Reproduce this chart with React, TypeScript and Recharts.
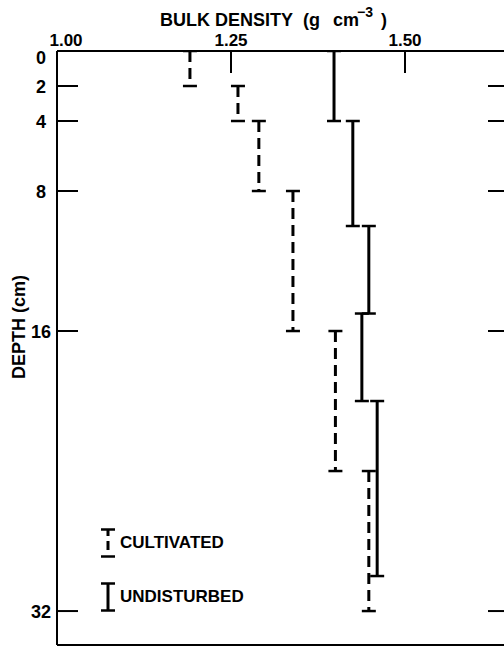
import { ScatterChart, Scatter, XAxis, YAxis, Legend } from 'recharts'

// depth intervals (cm) and bulk density (g cm-3)
const cultTop = [0, 2, 4, 8, 16, 24]
const cultBottom = [2, 4, 8, 16, 24, 32]
const cultDensity = [1.191, 1.26, 1.29, 1.339, 1.4, 1.448]

const undTop = [0, 4, 10, 15, 20]
const undBottom = [4, 10, 15, 20, 30]
const undDensity = [1.398, 1.425, 1.448, 1.438, 1.46]

const densityTicks = [1.0, 1.25, 1.5]
const depthTicks = [0, 2, 4, 8, 16, 32]

const FONT = '"Liberation Sans", Arial, sans-serif'
const INK = '#000'

const segs = (top: number[], bottom: number[], dens: number[]) =>
  dens.map((d, i) => [
    { x: d, y: top[i] },
    { x: d, y: bottom[i] },
  ])

const cultivated = segs(cultTop, cultBottom, cultDensity)
const undisturbed = segs(undTop, undBottom, undDensity)

function Cap({ cx, cy }: any) {
  return <line x1={cx - 7} x2={cx + 7} y1={cy} y2={cy} stroke={INK} strokeWidth={2.5} />
}

function TopTick({ x, y, payload }: any) {
  const v = payload.value
  return (
    <g>
      {v > 1 && <line x1={x} x2={x} y1={y} y2={y + 22} stroke={INK} strokeWidth={2} />}
      <text x={v === 1 ? x + 9 : x} y={y - 5} textAnchor="middle" fontFamily={FONT} fontWeight="bold" fontSize={17} fill={INK}>
        {v.toFixed(2)}
      </text>
    </g>
  )
}

function BottomTick({ x, y, payload }: any) {
  if (payload.value <= 1) return null
  return <line x1={x} x2={x} y1={y} y2={y - 22} stroke={INK} strokeWidth={2} />
}

function LeftTick({ x, y, payload }: any) {
  const v = payload.value
  return (
    <g>
      {v > 0 && <line x1={x} x2={x + 21} y1={y} y2={y} stroke={INK} strokeWidth={2} />}
      <text x={x - 16} y={v === 0 ? y + 7 : y + 1} textAnchor="middle" dominantBaseline="central" fontFamily={FONT} fontWeight="bold" fontSize={18} fill={INK}>
        {v}
      </text>
    </g>
  )
}

function RightTick({ x, y, payload }: any) {
  if (payload.value <= 0) return null
  return <line x1={x} x2={x - 21} y1={y} y2={y} stroke={INK} strokeWidth={2} />
}

const Title = () => (
  <text x={160} y={26} fontFamily={FONT} fontWeight="bold" fontSize={18} fill={INK}>
    BULK DENSITY
    <tspan x={303}>(g</tspan>
    <tspan x={333}>cm</tspan>
    <tspan x={357} y={17} fontSize={14}>−3</tspan>
    <tspan x={381} y={26}>)</tspan>
  </text>
)

const DepthLabel = () => (
  <text transform="translate(19,327) rotate(-90)" textAnchor="middle" dominantBaseline="central" fontFamily={FONT} fontWeight="bold" fontSize={18} fill={INK}>
    DEPTH (cm)
  </text>
)

function LegendBox() {
  const row = (dashed: boolean, label: string) => (
    <div style={{ display: 'flex', alignItems: 'center', height: 30, marginBottom: 24 }}>
      <svg width={16} height={30}>
        <line x1={8} x2={8} y1={1} y2={29} stroke={INK} strokeWidth={3} strokeDasharray={dashed ? '7 5 9' : undefined} />
        <line x1={1} x2={15} y1={1.5} y2={1.5} stroke={INK} strokeWidth={2.5} />
        <line x1={1} x2={15} y1={28.5} y2={28.5} stroke={INK} strokeWidth={2.5} />
      </svg>
      <span style={{ fontFamily: FONT, fontWeight: 'bold', fontSize: 17, marginLeft: 4, color: INK }}>{label}</span>
    </div>
  )
  return (
    <div>
      {row(true, 'CULTIVATED')}
      {row(false, 'UNDISTURBED')}
    </div>
  )
}

export default function App() {
  return (
    <div style={{ position: 'absolute', left: 0, top: 0, width: 504, height: 648, overflow: 'hidden', background: '#fff' }}>
      <ScatterChart width={512} height={648} margin={{ top: 0, right: 0, bottom: 0, left: 0 }}>
        <XAxis
          xAxisId="top"
          orientation="top"
          type="number"
          dataKey="x"
          domain={[1, 1.6494]}
          ticks={densityTicks}
          height={51}
          tickSize={0}
          tickMargin={0}
          tick={<TopTick />}
          axisLine={{ stroke: INK, strokeWidth: 2 }}
          allowDataOverflow
          label={Title}
        />
        <XAxis
          xAxisId="bottom"
          orientation="bottom"
          type="number"
          domain={[1, 1.6494]}
          ticks={densityTicks}
          height={3}
          tickSize={0}
          tickMargin={0}
          tick={<BottomTick />}
          axisLine={{ stroke: INK, strokeWidth: 2 }}
          allowDataOverflow
        />
        <YAxis
          yAxisId="left"
          type="number"
          dataKey="y"
          reversed
          domain={[0, 33.94]}
          ticks={depthTicks}
          width={57}
          tickSize={0}
          tickMargin={0}
          tick={<LeftTick />}
          axisLine={{ stroke: INK, strokeWidth: 2 }}
          allowDataOverflow
          label={DepthLabel}
        />
        <YAxis
          yAxisId="right"
          orientation="right"
          type="number"
          reversed
          domain={[0, 33.94]}
          ticks={depthTicks}
          width={3}
          tickSize={0}
          tickMargin={0}
          tick={<RightTick />}
          axisLine={false}
          allowDataOverflow
        />
        <Legend
          layout="horizontal"
          verticalAlign="middle"
          align="center"
          content={<LegendBox />}
          wrapperStyle={{ left: 100, top: 528, width: 220 }}
        />
        {cultivated.map((d, i) => (
          <Scatter
            key={`c${i}`}
            name="CULTIVATED"
            data={d}
            xAxisId="top"
            yAxisId="left"
            line={{ stroke: INK, strokeWidth: 3, strokeDasharray: '11 6' }}
            shape={<Cap />}
            isAnimationActive={false}
            legendType="none"
          />
        ))}
        {undisturbed.map((d, i) => (
          <Scatter
            key={`u${i}`}
            name="UNDISTURBED"
            data={d}
            xAxisId="top"
            yAxisId="left"
            line={{ stroke: INK, strokeWidth: 3 }}
            shape={<Cap />}
            isAnimationActive={false}
            legendType="none"
          />
        ))}
      </ScatterChart>
    </div>
  )
}
